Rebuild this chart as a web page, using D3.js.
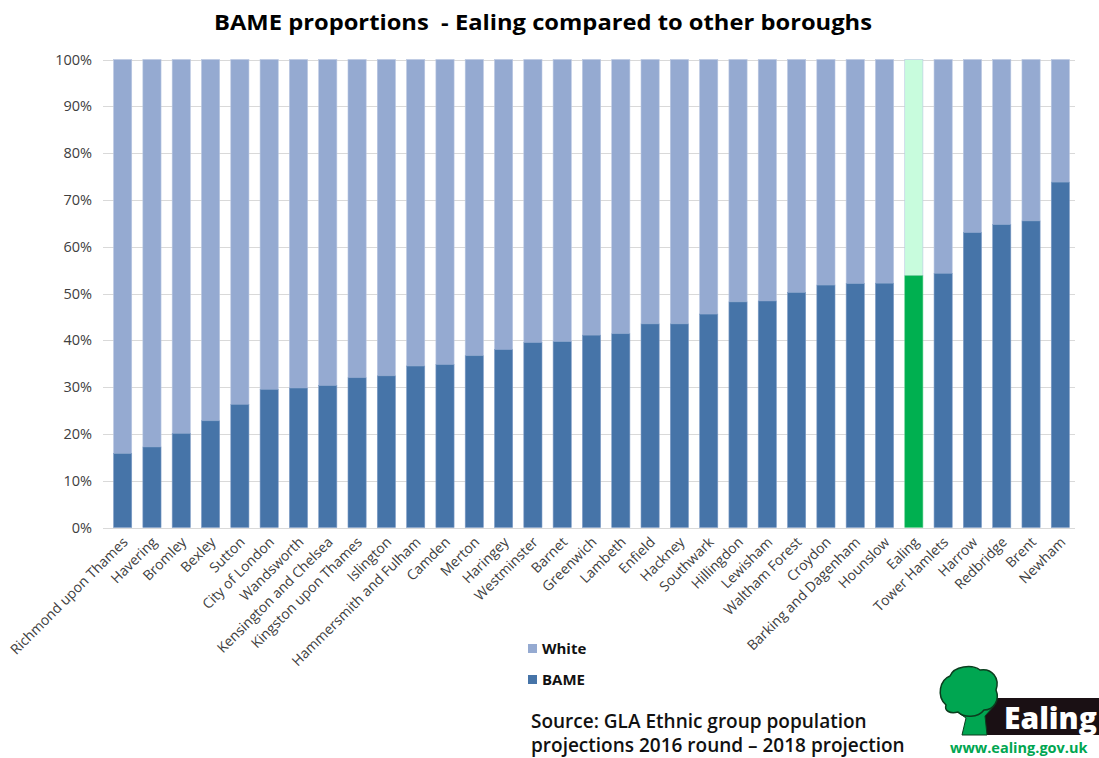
<!DOCTYPE html>
<html><head><meta charset="utf-8">
<script src="https://cdn.jsdelivr.net/npm/d3@7"></script>
<style>body{margin:0;background:#fff}svg{display:block}</style>
</head><body>
<svg id="c" width="1099" height="758"></svg>
<script>
const boroughs = ["Richmond upon Thames","Havering","Bromley","Bexley","Sutton","City of London","Wandsworth","Kensington and Chelsea","Kingston upon Thames","Islington","Hammersmith and Fulham","Camden","Merton","Haringey","Westminster","Barnet","Greenwich","Lambeth","Enfield","Hackney","Southwark","Hillingdon","Lewisham","Waltham Forest","Croydon","Barking and Dagenham","Hounslow","Ealing","Tower Hamlets","Harrow","Redbridge","Brent","Newham"];
const bame = [15.8,17.2,20.1,22.8,26.3,29.5,29.8,30.3,32.0,32.4,34.5,34.8,36.7,38.0,39.5,39.7,41.1,41.4,43.5,43.5,45.6,48.2,48.4,50.2,51.8,52.1,52.2,53.8,54.3,63.0,64.7,65.5,73.8];
const white = bame.map(v => 100 - v);
const yTicks = [0,10,20,30,40,50,60,70,80,90,100];
const seriesNames = ["White","BAME"];
const highlight = "Ealing";

const svg = d3.select("#c");
const x = d3.scaleBand().domain(boroughs).range([108,1075]).paddingInner(0.38).paddingOuter(0.19);
const y = d3.scaleLinear().domain([0,100]).range([527.5,59.5]);

const col = {white:"#95AAD1", bame:"#4674A8", hwhite:"#C8FCDD", hbame:"#00B050"};

// title
svg.append("text").attr("x",543).attr("y",30).attr("text-anchor","middle")
  .attr("font-family","'Open Sans',sans-serif").attr("font-weight","bold").attr("font-size",21)
  .attr("fill","#000").attr("textLength",658).attr("lengthAdjust","spacingAndGlyphs")
  .attr("xml:space","preserve").style("white-space","pre")
  .text("BAME proportions  - Ealing compared to other boroughs");

// gridlines
svg.append("g").selectAll("line").data(yTicks).join("line")
  .attr("x1",103).attr("x2",1075).attr("y1",d=>Math.round(y(d))+0.5).attr("y2",d=>Math.round(y(d))+0.5)
  .attr("stroke","#D9D9D9").attr("stroke-width",1.2);

// y axis labels
const ya = svg.append("g").attr("transform","translate(100,0)")
  .call(d3.axisLeft(y).tickValues(yTicks).tickFormat(d=>d+"%").tickSize(0).tickPadding(8));
ya.select(".domain").remove();
ya.selectAll("text").attr("font-family","'Open Sans',sans-serif").attr("font-size",14.5).attr("fill","#404040");

// bars
const data = boroughs.map((b,i)=>({b, bame:bame[i], white:white[i]}));
const g = svg.append("g");
g.selectAll(".bw").data(data).join("rect")
  .attr("x",d=>x(d.b)).attr("width",x.bandwidth())
  .attr("y",d=>y(d.bame+d.white)).attr("height",d=>y(d.bame)-y(d.bame+d.white))
  .attr("fill",d=>d.b===highlight?col.hwhite:col.white)
  .attr("stroke","#B9C7E2").attr("stroke-width",0.6);
g.selectAll(".bb").data(data).join("rect")
  .attr("x",d=>x(d.b)).attr("width",x.bandwidth())
  .attr("y",d=>y(d.bame)).attr("height",d=>y(0)-y(d.bame))
  .attr("fill",d=>d.b===highlight?col.hbame:col.bame)
  .attr("stroke",d=>d.b===highlight?"#5FD08E":"#7E9CC6").attr("stroke-width",0.6);

// x axis
const xa = svg.append("g").attr("transform","translate(0,528)")
  .call(d3.axisBottom(x).tickSize(0).tickPadding(0));
xa.select(".domain").remove();
xa.selectAll("text")
  .attr("font-family","'Open Sans',sans-serif").attr("font-size",14).attr("fill","#404040")
  .attr("text-anchor","end").attr("dy",0)
  .attr("transform","translate(6,15) rotate(-45)");

// legend
const lg = svg.append("g").attr("font-family","'Open Sans',sans-serif");
[[seriesNames[0],col.white,644],[seriesNames[1],col.bame,675]].forEach(([n,c,yy])=>{
  lg.append("rect").attr("x",528).attr("y",yy).attr("width",9).attr("height",9).attr("fill",c);
  lg.append("text").attr("x",542).attr("y",yy+10).attr("font-size",15).attr("font-weight","bold").attr("fill","#111").text(n);
});

// source
const src = svg.append("g").attr("font-family","'Open Sans',sans-serif").attr("font-weight","600").attr("font-size",19).attr("fill","#111");
src.append("text").attr("x",531).attr("y",728).text("Source: GLA Ethnic group population");
src.append("text").attr("x",531).attr("y",752).text("projections 2016 round \u2013 2018 projection");

// logo
const lo = svg.append("g");
lo.append("rect").attr("x",978).attr("y",698).attr("width",121).attr("height",37).attr("fill","#1a1014");
lo.append("path").attr("d","M962,735 L966,718 L956,711 L968,713 L974,702 L982,710 L994,706 L985,716 L987,735 Z")
  .attr("fill","#00A651").attr("stroke","#0b3d1e").attr("stroke-width",1);
lo.append("path").attr("d","M946,705 C936,696 940,680 950,676 C954,666 972,664 980,670 C992,668 1000,678 996,690 C1000,700 994,710 984,710 C978,718 964,718 958,712 C950,714 944,711 946,705 Z")
  .attr("fill","#00A651").attr("stroke","#0b3d1e").attr("stroke-width",1.5);
lo.append("text").attr("x",1004).attr("y",729).attr("font-family","'Open Sans',sans-serif").attr("font-weight","800")
  .attr("font-size",30).attr("fill","#fff").text("Ealing");
lo.append("text").attr("x",950).attr("y",753).attr("font-family","'Open Sans',sans-serif").attr("font-weight","bold")
  .attr("font-size",14.5).attr("fill","#00A651").text("www.ealing.gov.uk");
</script>
</body></html>
